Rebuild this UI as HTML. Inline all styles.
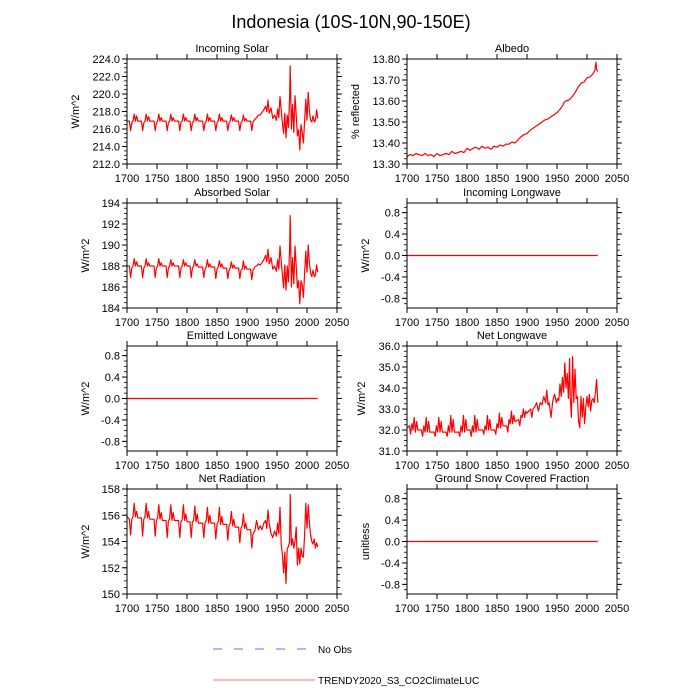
<!DOCTYPE html>
<html><head><meta charset="utf-8"><style>
body{margin:0;background:#fff;}
svg{display:block;font-family:"Liberation Sans",sans-serif;}
</style></head><body>
<svg id="chart" width="700" height="700" viewBox="0 0 700 700">
<text x="351" y="28" font-size="18" text-anchor="middle">Indonesia (10S-10N,90-150E)</text>
<g>
<line x1="213" y1="649" x2="307" y2="649" stroke="#6b6bf0" stroke-width="1" stroke-dasharray="9,12"/>
<text x="318" y="653" font-size="10">No Obs</text>
<line x1="213" y1="680" x2="315" y2="680" stroke="#ff6b6b" stroke-width="1"/>
<text x="318" y="684" font-size="10">TRENDY2020_S3_CO2ClimateLUC</text>
</g>
</svg>
<script>
const xTicks=[1700,1750,1800,1850,1900,1950,2000,2050];
// Incoming Solar
const solarYears=[1700,1704,1706,1708,1710,1712,1714,1716,1718,1724,1726,1728,1730,1732,1734,1736,1738,1745,1747,1749,1751,1753,1755,1757,1759,1765,1767,1769,1771,1773,1775,1777,1779,1786,1788,1790,1792,1794,1796,1798,1800,1805,1807,1809,1811,1813,1815,1817,1819,1826,1828,1830,1832,1834,1836,1838,1840,1846,1848,1850,1852,1854,1856,1858,1860,1866,1868,1870,1872,1874,1876,1878,1880,1886,1888,1890,1892,1894,1896,1898,1900,1906,1908,1910,1913,1916,1919,1922,1925,1928,1931,1933,1935,1937,1940,1943,1946,1949,1951,1953,1955,1957,1959,1961,1963,1965,1967,1969,1971,1972,1974,1976,1978,1980,1982,1984,1986,1988,1990,1992,1994,1996,1998,2000,2002,2004,2006,2008,2010,2012,2014,2016,2018];
const incomingSolar=[216.9,216.9,215.8,216.7,216.9,217.7,216.9,217.5,216.9,216.9,215.8,216.7,216.9,217.7,216.9,217.4,216.9,216.9,215.8,216.7,216.9,217.7,216.9,217.3,216.9,216.9,215.8,216.7,216.9,217.7,216.9,217.3,216.9,216.9,215.8,216.8,216.9,217.7,216.9,217.3,216.9,216.9,215.8,216.7,216.9,217.7,216.9,217.3,216.9,216.9,215.8,216.7,216.9,217.7,216.9,217.3,216.9,216.9,215.8,216.7,216.9,217.7,216.9,217.3,216.9,216.9,215.8,216.7,216.9,217.6,216.9,217.3,216.9,216.9,215.8,216.7,216.9,217.6,216.9,217.2,216.9,216.9,215.8,216.8,217.1,217.3,217.6,217.6,217.9,218.2,218.6,218.0,219.3,217.8,218.4,217.2,217.6,217.0,218.3,217.3,219.7,218.2,216.7,215.5,217.8,215.0,217.6,216.2,219.5,223.2,216.0,218.8,215.6,219.8,217.6,215.2,215.9,213.6,216.5,215.6,214.4,216.9,219.4,217.0,220.2,218.0,217.0,216.8,217.5,216.8,217.0,218.2,217.2];
// Absorbed Solar
const absorbedSolar=[188.0,188.0,186.9,187.8,188.0,188.7,188.0,188.4,188.0,188.0,186.9,187.8,188.0,188.7,188.0,188.3,188.0,188.0,186.9,187.8,188.0,188.7,188.0,188.3,188.0,188.0,186.9,187.8,188.0,188.6,188.0,188.3,188.0,188.0,186.9,187.8,188.0,188.6,188.0,188.3,188.0,188.0,186.9,187.8,188.0,188.6,188.0,188.2,187.9,187.9,186.9,187.7,187.9,188.6,187.9,188.2,187.9,187.9,186.8,187.7,187.9,188.5,187.9,188.2,187.8,187.8,186.8,187.6,187.8,188.4,187.8,188.1,187.8,187.8,186.8,187.6,187.7,188.5,187.7,188.0,187.7,187.7,186.7,187.6,187.9,188.0,188.2,188.1,188.3,188.6,189.0,188.4,189.6,188.2,188.8,187.7,188.0,187.5,188.6,187.7,189.9,188.5,187.2,185.9,188.1,185.7,188.0,186.5,189.6,192.8,186.0,188.8,186.3,189.9,188.0,185.9,186.6,184.4,186.6,186.2,185.0,187.3,189.4,187.4,190.0,188.3,187.3,187.0,187.6,187.0,187.1,188.1,187.4];
// Net Radiation
const netRadiation=[155.9,155.7,154.5,155.7,155.9,156.9,155.9,156.3,155.8,155.8,154.4,155.7,155.9,156.9,155.8,156.3,155.7,155.7,154.4,155.6,155.8,156.8,155.7,156.2,155.6,155.6,154.3,155.6,155.7,156.8,155.6,156.2,155.6,155.6,154.3,155.5,155.7,156.8,155.6,156.1,155.5,155.5,154.3,155.5,155.6,156.7,155.5,156.1,155.4,155.4,154.3,155.4,155.6,156.6,155.4,156.0,155.4,155.4,154.2,155.3,155.5,156.6,155.3,155.9,155.3,155.3,154.1,155.2,155.4,156.3,155.2,155.7,155.1,155.1,153.9,155.0,155.2,156.1,155.0,155.4,154.9,154.9,153.5,154.6,154.8,155.6,154.9,155.2,154.9,155.4,155.6,155.0,156.4,155.4,154.6,154.3,154.8,154.4,155.4,154.6,156.6,153.8,153.0,151.6,153.2,150.8,153.5,153.6,154.0,157.6,153.7,154.2,153.5,154.0,155.1,152.2,153.5,152.3,153.5,152.9,152.8,154.5,156.9,155.0,156.8,155.4,154.5,154.0,153.8,154.2,153.5,153.9,153.6];
// Net Longwave
const netLongwave=[32.1,32.2,31.8,32.3,32.0,32.6,31.9,32.4,32.0,32.0,31.7,32.2,31.9,32.6,31.9,32.4,31.9,31.9,31.7,32.2,31.9,32.6,31.9,32.4,31.9,31.9,31.7,32.2,31.9,32.7,31.9,32.5,31.9,31.9,31.7,32.2,31.9,32.7,31.9,32.5,32.0,32.0,31.7,32.2,31.9,32.7,31.9,32.5,32.0,32.0,31.8,32.2,32.0,32.7,32.0,32.5,32.0,32.0,31.8,32.3,32.1,32.8,32.1,32.6,32.2,32.2,31.9,32.5,32.3,32.9,32.3,32.7,32.4,32.5,32.2,32.7,32.6,33.0,32.6,32.9,32.8,33.0,32.6,33.0,33.1,33.3,32.9,33.3,33.2,33.6,33.3,33.9,33.2,33.3,32.6,33.4,33.7,33.3,33.5,33.4,34.2,33.6,34.5,33.8,35.2,34.0,34.7,33.5,35.4,33.6,32.6,35.5,33.3,34.9,33.5,33.6,32.4,32.1,33.6,32.6,33.5,32.3,33.1,33.6,33.1,33.7,32.9,33.4,33.5,33.3,33.8,34.4,33.3];
// Albedo
const albedoYears=[1700,1705,1710,1715,1720,1725,1730,1735,1740,1745,1750,1755,1760,1765,1770,1775,1780,1785,1790,1795,1800,1805,1810,1815,1820,1825,1830,1835,1840,1845,1850,1855,1860,1865,1870,1875,1880,1885,1890,1895,1900,1905,1910,1915,1920,1925,1930,1935,1940,1945,1950,1955,1960,1962,1965,1970,1975,1980,1985,1990,1995,2000,2005,2010,2013,2015,2016,2018];
const albedo=[13.335,13.345,13.34,13.35,13.345,13.34,13.35,13.34,13.345,13.335,13.35,13.34,13.345,13.35,13.345,13.36,13.35,13.355,13.36,13.355,13.375,13.365,13.375,13.38,13.37,13.385,13.375,13.38,13.37,13.385,13.38,13.39,13.385,13.395,13.395,13.405,13.40,13.415,13.43,13.44,13.445,13.46,13.47,13.48,13.49,13.50,13.51,13.515,13.525,13.535,13.545,13.56,13.58,13.595,13.60,13.605,13.62,13.64,13.665,13.685,13.69,13.71,13.715,13.73,13.745,13.785,13.75,13.74];
const flatYears=[1700,2018];
const flatValues=[0,0];

const svg=document.getElementById('chart');
const NS='http://www.w3.org/2000/svg';
function mk(tag,attrs,parent){const e=document.createElementNS(NS,tag);for(const k in attrs)e.setAttribute(k,attrs[k]);parent.appendChild(e);return e;}

function panel(cfg){
  const x0=cfg.x,y0=cfg.y,w=210,h=105;
  const g=mk('g',{},svg);
  
  
  const sx=v=>x0+(v-1700)/350*w;
  const sy=v=>y0+h-(v-cfg.min)/(cfg.max-cfg.min)*h;
  const k0=Math.ceil(cfg.min/cfg.minor-1e-6), k1=Math.floor(cfg.max/cfg.minor+1e-6);
  for(let k=k0;k<=k1;k++){
    const yy=sy(k*cfg.minor);
    mk('line',{x1:x0-3,y1:yy,x2:x0,y2:yy,stroke:'#000','stroke-width':0.8},g);
    mk('line',{x1:x0+w,y1:yy,x2:x0+w+3,y2:yy,stroke:'#000','stroke-width':0.8},g);
  }
  cfg.ticks.forEach((v,i)=>{
    const yy=sy(v);
    mk('line',{x1:x0-5,y1:yy,x2:x0,y2:yy,stroke:'#000','stroke-width':1},g);
    mk('line',{x1:x0+w,y1:yy,x2:x0+w+5,y2:yy,stroke:'#000','stroke-width':1},g);
    const t=mk('text',{x:x0-7,y:yy+4,'font-size':11,'text-anchor':'end'},g);
    t.textContent=cfg.labels[i];
    
    
  });
  xTicks.forEach(v=>{
    const xx=sx(v);
    mk('line',{x1:xx,y1:y0-5,x2:xx,y2:y0,stroke:'#000','stroke-width':1},g);
    mk('line',{x1:xx,y1:y0+h,x2:xx,y2:y0+h+5,stroke:'#000','stroke-width':1},g);
    const t=mk('text',{x:xx,y:y0+h+18,'font-size':11,'text-anchor':'middle'},g);
    t.textContent=String(v);
    
    
  });
  const pts=cfg.xs.map((v,i)=>sx(v).toFixed(1)+','+sy(cfg.ys[i]).toFixed(1)).join(' ');
  const pl=mk('polyline',{points:pts,fill:'none',stroke:'#ff0000','stroke-width':1.2,'stroke-linejoin':'round'},g);
  
  
  const r=mk('rect',{x:x0,y:y0,width:w,height:h,fill:'none',stroke:'#000','stroke-width':1},g);
  
  
  const tt=mk('text',{x:x0+w/2,y:y0-7,'font-size':11,'text-anchor':'middle'},g);
  tt.textContent=cfg.title;
  
  
  const cy=y0+h/2, cx=cfg.yTitleX;
  const yt=mk('text',{x:cx,y:cy,'font-size':11,'text-anchor':'middle',transform:'rotate(-90 '+cx+' '+cy+')'},g);
  yt.textContent=cfg.ytitle;
  
  
}
const L=127,R=407,rows=[59,203,346,489];
const zt=[0.8,0.4,0,-0.4,-0.8], zl=['0.8','0.4','0.0','-0.4','-0.8'];
panel({name:'incoming-solar',title:'Incoming Solar',ytitle:'W/m^2',x:L,y:rows[0],min:212,max:224,minor:0.5,ticks:[212,214,216,218,220,222,224],labels:['212.0','214.0','216.0','218.0','220.0','222.0','224.0'],xs:solarYears,ys:incomingSolar,yTitleX:79});
panel({name:'albedo',title:'Albedo',ytitle:'% reflected',x:R,y:rows[0],min:13.3,max:13.8,minor:0.025,ticks:[13.3,13.4,13.5,13.6,13.7,13.8],labels:['13.30','13.40','13.50','13.60','13.70','13.80'],xs:albedoYears,ys:albedo,yTitleX:359});
panel({name:'absorbed-solar',title:'Absorbed Solar',ytitle:'W/m^2',x:L,y:rows[1],min:184,max:194,minor:0.5,ticks:[184,186,188,190,192,194],labels:['184','186','188','190','192','194'],xs:solarYears,ys:absorbedSolar,yTitleX:89});
panel({name:'incoming-longwave',title:'Incoming Longwave',ytitle:'W/m^2',x:R,y:rows[1],min:-0.98,max:0.98,minor:0.1,ticks:zt,labels:zl,xs:flatYears,ys:flatValues,yTitleX:369});
panel({name:'emitted-longwave',title:'Emitted Longwave',ytitle:'W/m^2',x:L,y:rows[2],min:-0.98,max:0.98,minor:0.1,ticks:zt,labels:zl,xs:flatYears,ys:flatValues,yTitleX:89});
panel({name:'net-longwave',title:'Net Longwave',ytitle:'W/m^2',x:R,y:rows[2],min:31,max:36,minor:0.25,ticks:[31,32,33,34,35,36],labels:['31.0','32.0','33.0','34.0','35.0','36.0'],xs:solarYears,ys:netLongwave,yTitleX:365});
panel({name:'net-radiation',title:'Net Radiation',ytitle:'W/m^2',x:L,y:rows[3],min:150,max:158,minor:0.5,ticks:[150,152,154,156,158],labels:['150','152','154','156','158'],xs:solarYears,ys:netRadiation,yTitleX:89});
panel({name:'ground-snow',title:'Ground Snow Covered Fraction',ytitle:'unitless',x:R,y:rows[3],min:-0.98,max:0.98,minor:0.1,ticks:zt,labels:zl,xs:flatYears,ys:flatValues,yTitleX:369});
</script>
</body></html>
